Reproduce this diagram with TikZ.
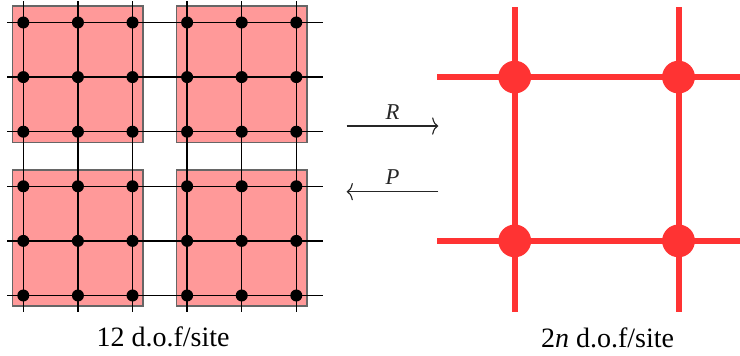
\documentclass[tikz,border=0pt]{standalone}
\usepackage{fontspec}
\setmainfont{Liberation Serif}
\usetikzlibrary{arrows.meta}
\begin{document}
\begin{tikzpicture}[every node/.style={font=\fontsize{14.6}{17}\selectfont},
  block/.style={fill=red!40,draw=black!60,line width=0.7pt},
  fine/.style={line width=0.8pt},
  link/.style={draw=red!80,line width=3.1pt},
  map/.style={-{To[length=3.2pt,width=9pt]},black!85,line width=0.6pt}]
\useasboundingbox (-0.427,-1.108) rectangle (13.126,5.412);
% fine lattice, 2x2 blocks
\foreach \bx/\by in {0/0,3/0,0/3,3/3}
  \filldraw[block] (\bx-0.194,\by-0.194) rectangle (\bx+2.194,\by+2.3);
\foreach \i in {0,...,5} {
  \draw[fine] (-0.293,\i) -- (5.49,\i);
  \draw[fine] (\i,-0.3) -- (\i,5.396);
}
\foreach \i in {0,...,5} \foreach \j in {0,...,5} \fill (\i,\j) circle (0.11);
% coarse lattice
\foreach \i in {9,12} \draw[link] (\i,-0.297) -- (\i,5.29);
\foreach \j in {1,4} \draw[link] (7.58,\j) -- (13.3,\j);
\foreach \i in {9,12} \foreach \j in {1,4} \fill[red!80] (\i,\j) circle (0.30);
% maps
\coordinate (Rs) at (5.923,3.104); \coordinate (Re) at (7.60,3.104);
\coordinate (Ps) at (7.60,1.901); \coordinate (Pe) at (5.923,1.901);
\draw[map] (Rs) -- (Re) node[midway,above,font=\fontsize{11.8}{14}\selectfont] {\textit{R}};
\draw[map] (Ps) -- (Pe) node[midway,above,font=\fontsize{11.8}{14}\selectfont] {\textit{P}};
\node (finelabel) at (2.56,-0.76) {12 d.o.f/site};
\node (coarselabel) at (10.70,-0.78) {2\textit{n} d.o.f/site};
\end{tikzpicture}
\end{document}
